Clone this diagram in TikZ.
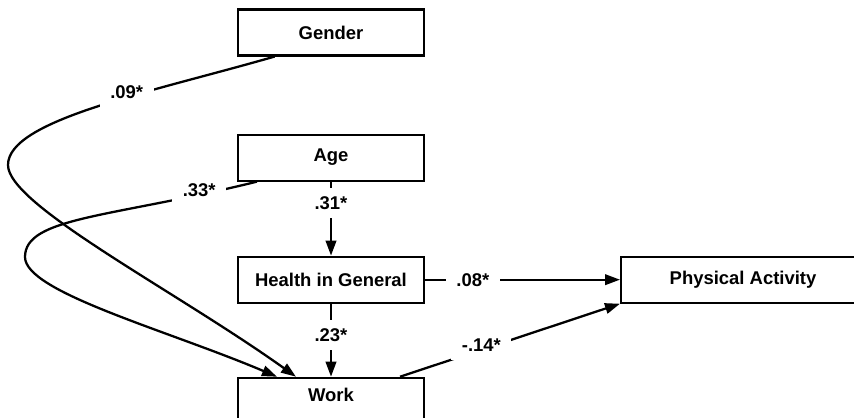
\documentclass[tikz,border=0pt]{standalone}
\usepackage{fontspec}
\setmainfont{Liberation Sans}
\usetikzlibrary{arrows.meta,positioning,calc}

\begin{document}
\begin{tikzpicture}[x=0.02cm, y=-0.02cm, font=\fontsize{10.5}{12}\selectfont\bfseries]
        \tikzset{
            box/.style={draw, line width=1.2pt, align=center, minimum width=3.72cm, minimum height=0.92cm},
            arr/.style={-{Triangle[length=3mm, width=2.1mm]}, line width=1.3pt},
            lbl/.style={fill=white, inner xsep=6pt, inner ysep=5pt}
        }
        \useasboundingbox (0,0) rectangle (854,417);
        \clip (0,0) rectangle (854,417);

        \node[box] (gender) at (331,32.5) {Gender};
        \node[box, below=1.54cm of gender] (age) {Age};
        \node[box, below=1.48cm of age] (health) {Health in General};
        \node[box, below=1.46cm of health, inner ysep=6pt, text depth=1.2cm] (work) {Work};
        \node[box, right=3.9cm of health, minimum width=4.88cm] (pa) {Physical Activity};

        \draw[arr] (age) -- node[lbl, pos=0.29] (l31) {.31*} (health);
        \draw[arr] (health) -- node[lbl, pos=0.43] (l23) {.23*} (work);
        \draw[arr] (health.east) -- node[lbl, pos=0.245] (l08) {.08*} (health.east -| pa.west);
        \draw[arr] ([xshift=-0.5cm]work.north east) -- node[lbl, pos=0.37, yshift=1mm] (l14) {-.14*} (pa.south west);

        % the two long loops round to the left into Work
        \draw[arr] ($(gender.south west)!0.2!(gender.south east)$)
            .. controls +(-125,36) and +(0,-45) .. node[lbl, pos=0.4, yshift=1mm] (l09) {.09*} (8,165)
            .. controls +(0,40) and +(-122,-87) .. ($(work.north west)+(59,0)$);
        \draw[arr] ($(age.south west)+(20,0)$)
            .. controls +(-146,36) and +(0,-40) .. node[lbl, pos=0.14, yshift=1mm] (l33) {.33*} (25,257)
            .. controls +(0,35) and +(-111,-47) .. ($(work.north west)+(40,0)$);
    \end{tikzpicture}
\end{document}
